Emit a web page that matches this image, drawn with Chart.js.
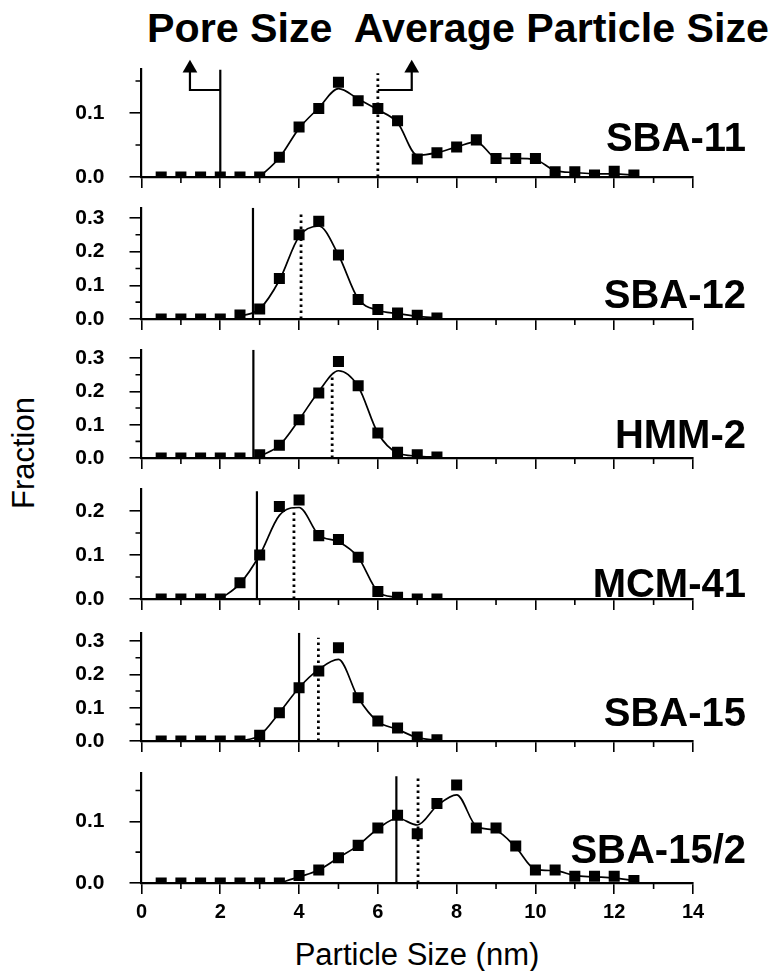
<!DOCTYPE html>
<html>
<head>
<meta charset="utf-8">
<script src="https://cdn.jsdelivr.net/npm/chart.js@4.4.1/dist/chart.umd.min.js"></script>
<style>
  body { margin: 0; background: #fff; }
  #wrap { position: relative; width: 771px; height: 971px; overflow: hidden; font-family: "Liberation Sans", Arial, sans-serif; color: #000; }
  canvas { position: absolute; left: 0; }
  .txt { position: absolute; white-space: pre; }
  .big { font-weight: bold; font-size: 40px; line-height: 40px; }
</style>
</head>
<body>
<div id="wrap">
  <div class="txt big" style="left:147px; top:8px; font-size:41.2px; line-height:41.2px;">Pore Size  Average Particle Size</div>
  <div class="txt" style="left:417px; top:939px; font-size:31px; line-height:31px; transform:translateX(-50%);">Particle Size (nm)</div>
  <div class="txt" style="left:23px; top:453px; font-size:31px; line-height:31px; transform:translate(-50%,-50%) rotate(-90deg);">Fraction</div>
</div>
<script>
// particle size bins (nm)
const sizes = [0.5, 1.0, 1.5, 2.0, 2.5, 3.0, 3.5, 4.0, 4.5, 5.0, 5.5, 6.0, 6.5,
               7.0, 7.5, 8.0, 8.5, 9.0, 9.5, 10.0, 10.5, 11.0, 11.5, 12.0, 12.5];
const samples = ["SBA-11", "SBA-12", "HMM-2", "MCM-41", "SBA-15", "SBA-15/2"];

// measured fractions (squares)
const sba11 = [0, 0, 0, 0, 0, 0, 0.031, 0.078, 0.107, 0.148, 0.119, 0.107, 0.088,
               0.028, 0.038, 0.047, 0.058, 0.029, 0.029, 0.029, 0.008, 0.008, 0.003, 0.009, 0.003];
const sba12 = [0, 0, 0, 0, 0.012, 0.03, 0.12, 0.25, 0.29, 0.19, 0.058, 0.028, 0.018, 0.011, 0.003];
const hmm2  = [0, 0, 0, 0, 0, 0.01, 0.038, 0.115, 0.195, 0.29, 0.217, 0.075, 0.017, 0.01, 0.003];
const mcm41 = [0, 0, 0, 0, 0.037, 0.1, 0.21, 0.225, 0.144, 0.135, 0.095, 0.017, 0.004, 0, 0];
const sba15 = [0, 0, 0, 0, 0, 0.017, 0.085, 0.16, 0.21, 0.28, 0.13, 0.06, 0.039, 0.012, 0.004];
const sba15b = [0, 0, 0, 0, 0, 0, 0, 0.012, 0.021, 0.041, 0.061, 0.089, 0.11, 0.08, 0.129,
                0.159, 0.089, 0.089, 0.06, 0.021, 0.021, 0.011, 0.011, 0.011, 0.004];

// smoothed fit curves (null = no curve)
const sba11Fit = [null, null, null, null, null, 0, 0.03, 0.076, 0.108, 0.138, 0.122, 0.105, 0.085,
                  0.034, 0.038, 0.047, 0.055, 0.03, 0.029, 0.027, 0.01, 0.007, 0.005, 0.005, 0.003];
const sba12Fit = [null, null, null, null, 0.008, 0.03, 0.115, 0.245, 0.276, 0.19, 0.06, 0.026, 0.016, 0.008, 0.003];
const hmm2Fit  = [null, null, null, null, null, 0.005, 0.038, 0.115, 0.2, 0.262, 0.215, 0.075, 0.015, 0.006, 0.002];
const mcm41Fit = [null, null, null, 0, 0.035, 0.1, 0.19, 0.208, 0.145, 0.13, 0.095, 0.017, 0.003, null, null];
const sba15Fit = [null, null, null, null, 0, 0.017, 0.085, 0.16, 0.215, 0.245, 0.13, 0.058, 0.035, 0.01, 0.002];
const sba15bFit = [null, null, null, null, null, null, 0, 0.01, 0.021, 0.041, 0.061, 0.088, 0.105, 0.094, 0.125,
                   0.143, 0.092, 0.085, 0.058, 0.022, 0.02, 0.012, 0.01, 0.008, 0.004];

const fractions = [sba11, sba12, hmm2, mcm41, sba15, sba15b];
const fits = [sba11Fit, sba12Fit, hmm2Fit, mcm41Fit, sba15Fit, sba15bFit];

// pore size (solid line) and average particle size (dotted line), nm
const poreSize = [2.0, 2.83, 2.84, 2.93, 4.0, 6.47];
const avgSize  = [6.0, 4.05, 4.84, 3.87, 4.49, 7.02];
const poreTop  = [0.168, 0.33, 0.325, 0.245, 0.325, 0.173];
const avgTop   = [0.162, 0.31, 0.245, 0.205, 0.31, 0.17];

// the two arrows on the top panel
const poreArrowX = [2.0, 1.23, 1.23];
const avgArrowX  = [6.0, 6.86, 6.86];
const arrowY     = [0.136, 0.136, 0.17];

// layout: chart area top / bottom in page px, y max, label centre
const panels = [
  { top: 69.5,  bottom: 177,   yMax: 0.168, labelY: 137 },
  { top: 207.8, bottom: 319,   yMax: 0.33,  labelY: 294 },
  { top: 349.8, bottom: 458,   yMax: 0.325, labelY: 434 },
  { top: 489,   bottom: 599,   yMax: 0.25,  labelY: 583 },
  { top: 632.5, bottom: 740.7, yMax: 0.325, labelY: 712 },
  { top: 772.9, bottom: 882.7, yMax: 0.178, labelY: 849 }
];

const FONT = '"Liberation Sans", Arial, sans-serif';
const wrap = document.getElementById('wrap');

const minorTicks = {
  id: 'minorTicks',
  afterDraw(chart) {
    const ctx = chart.ctx, xs = chart.scales.x, ys = chart.scales.y, a = chart.chartArea;
    ctx.save();
    ctx.strokeStyle = '#000';
    ctx.lineWidth = 1.6;
    ctx.beginPath();
    for (let v = 1; v < 14; v += 2) {
      const px = xs.getPixelForValue(v);
      ctx.moveTo(px, a.bottom);
      ctx.lineTo(px, a.bottom + 6);
    }
    for (let v = 0.05; v < ys.max; v += 0.1) {
      const py = ys.getPixelForValue(v);
      ctx.moveTo(a.left, py);
      ctx.lineTo(a.left - 6, py);
    }
    ctx.stroke();
    ctx.restore();
  }
};

function pts(xs, ys) {
  return ys.map((y, k) => ({ x: xs[k], y: y }));
}

samples.forEach(function (name, i) {
  const p = panels[i];
  const last = i === samples.length - 1;
  // y tick padding also pads the chart area top/bottom, so leave room for it
  const xH = 44;
  const h = Math.round(p.bottom - p.top + 46 + xH);
  const padTop = h - xH - (p.bottom - p.top);

  const cv = document.createElement('canvas');
  cv.width = 771;
  cv.height = h;
  cv.style.top = (p.top - padTop) + 'px';
  wrap.appendChild(cv);

  const lbl = document.createElement('div');
  lbl.className = 'txt big';
  lbl.textContent = name;
  lbl.style.right = '25px';
  lbl.style.top = (p.labelY - 20) + 'px';
  wrap.appendChild(lbl);

  const clipPts = { left: 30, right: 30, top: 30, bottom: 0 };
  const datasets = [
    {
      type: 'line',
      data: pts(sizes, fits[i]),
      borderColor: '#000',
      borderWidth: 1.7,
      pointRadius: 0,
      cubicInterpolationMode: 'monotone',
      clip: clipPts
    },
    {
      type: 'scatter',
      data: pts(sizes, fractions[i]),
      pointStyle: 'rect',
      pointRadius: 7.8,
      backgroundColor: '#000',
      borderWidth: 0,
      clip: clipPts
    },
    {
      type: 'line',
      data: [{ x: poreSize[i], y: 0 }, { x: poreSize[i], y: poreTop[i] }],
      borderColor: '#000',
      borderWidth: 2.2,
      pointRadius: 0
    },
    {
      type: 'line',
      data: [{ x: avgSize[i], y: 0 }, { x: avgSize[i], y: avgTop[i] }],
      borderColor: '#000',
      borderWidth: 2.8,
      borderDash: [2.6, 3.4],
      pointRadius: 0
    }
  ];

  if (i === 0) {
    [poreArrowX, avgArrowX].forEach(function (ax) {
      datasets.push({
        type: 'line',
        data: pts(ax, arrowY),
        borderColor: '#000',
        borderWidth: 2.2,
        pointStyle: 'triangle',
        pointRadius: ctx => ctx.dataIndex === 2 ? 8.5 : 0,
        pointBackgroundColor: '#000',
        pointBorderWidth: 0,
        clip: false
      });
    });
  }

  new Chart(cv, {
    type: 'scatter',
    data: { datasets: datasets },
    plugins: [minorTicks],
    options: {
      responsive: false,
      animation: false,
      events: [],
      layout: { padding: { top: padTop, right: 78, left: 0, bottom: 0 } },
      plugins: { legend: { display: false }, tooltip: { enabled: false } },
      scales: {
        x: {
          type: 'linear',
          min: 0,
          max: 14,
          afterFit: s => { s.height = xH; },
          ticks: {
            stepSize: 2,
            display: last,
            padding: 6,
            color: '#000',
            font: { family: FONT, size: 20, weight: 'bold' }
          },
          grid: { drawOnChartArea: false, drawTicks: true, tickLength: 11, color: '#000', lineWidth: 1.6 },
          border: { display: true, color: '#000', width: 2.2 }
        },
        y: {
          type: 'linear',
          min: 0,
          max: p.yMax,
          afterFit: s => { s.width = 141.5; },
          ticks: {
            stepSize: 0.1,
            includeBounds: false,
            padding: 25,
            color: '#000',
            font: { family: FONT, size: 21, weight: 'bold' },
            callback: v => v.toFixed(1)
          },
          grid: { drawOnChartArea: false, drawTicks: true, tickLength: 12, color: '#000', lineWidth: 1.6 },
          border: { display: true, color: '#000', width: 2.2 }
        }
      }
    }
  });
});
</script>
</body>
</html>
